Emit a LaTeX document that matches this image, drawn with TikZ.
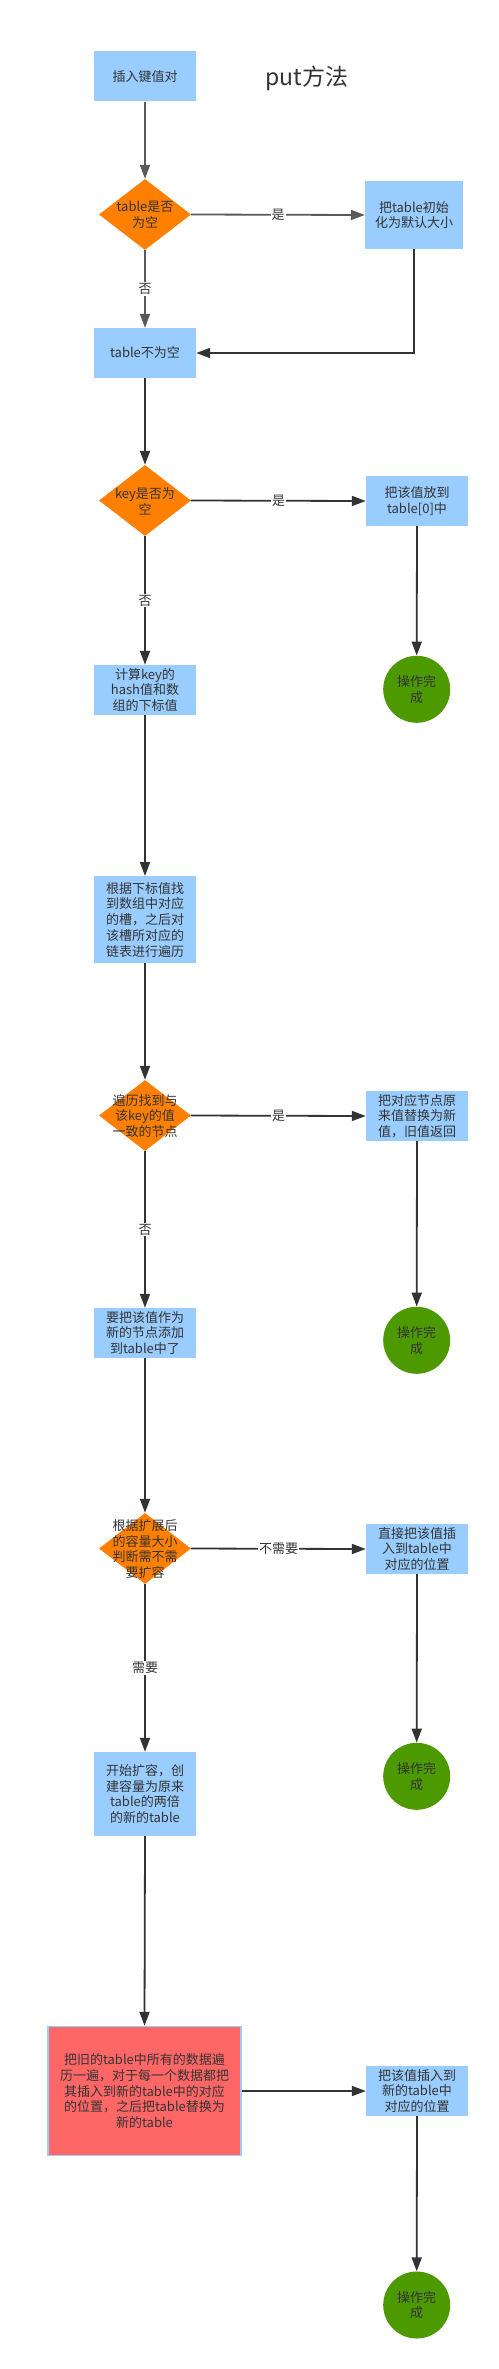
\documentclass[tikz,border=0pt]{standalone}
\usepackage{fontspec}
\newfontfamily\cjk{Noto Sans CJK SC}
\usetikzlibrary{shapes.geometric,arrows.meta}
\definecolor{boxblue}{HTML}{99CCFF}
\definecolor{decor}{HTML}{FF8000}
\definecolor{okgreen}{HTML}{4D9900}
\definecolor{redfill}{HTML}{FF6666}
\definecolor{txtgray}{HTML}{333333}
\definecolor{linegray}{HTML}{333333}
\definecolor{lightline}{HTML}{595959}
\tikzset{
  x=1pt,y=-1pt,
  base/.style={inner sep=0pt,text=txtgray,align=center,font=\cjk\fontsize{13}{15.75}\selectfont},
  stepbox/.style={base,rectangle,fill=boxblue,minimum width=102pt,minimum height=50pt},
  decision/.style={diamond,fill=decor,inner sep=0pt,minimum width=92pt,minimum height=71pt},
  dtext/.style={base},
  donecirc/.style={base,circle,fill=okgreen,minimum size=67pt},
  bigbox/.style={base,rectangle,fill=redfill,draw=boxblue,line width=1.5pt,minimum width=193pt,minimum height=129pt},
  conn/.style={draw=linegray,line width=1.8pt,-{Triangle[length=14pt,width=10pt]}},
  lightconn/.style={conn,draw=lightline},
  elabel/.style={base,fill=white,inner sep=1pt},
}
\begin{document}
\begin{tikzpicture}
\fill[white] (0,0) rectangle (498,2369);
\useasboundingbox (0,0) rectangle (498,2369);

\node[base,font=\cjk\fontsize{23}{26}\selectfont] (title) at (307,78) {put方法};

\node[stepbox] (n1) at (145,76.3) {插入键值对};

\node[decision] (d1) at (145,214.5) {};
\node[dtext] (d1t) at (145,215) {table是否\\为空};

\node[stepbox,minimum width=98pt,minimum height=68pt] (b2) at (414,215) {把table初始\\化为默认大小};

\node[stepbox] (b3) at (145,353) {table不为空};

\node[decision] (d2) at (145,500.5) {};
\node[dtext] (d2t) at (145,501) {key是否为\\空};

\node[stepbox] (b4) at (417,501) {把该值放到\\table[0]中};

\node[stepbox] (b5) at (145,690) {计算key的\\hash值和数\\组的下标值};

\node[donecirc] (c1) at (416.7,689.3) {操作完\\成};

\node[stepbox,minimum height=87pt] (b6) at (145,919.7) {根据下标值找\\到数组中对应\\的槽，之后对\\该槽所对应的\\链表进行遍历};

\node[decision] (d3) at (145,1115.5) {};
\node[dtext] (d3t) at (145,1116) {遍历找到与\\该key的值\\一致的节点};

\node[stepbox] (b7) at (417,1116) {把对应节点原\\来值替换为新\\值，旧值返回};

\node[stepbox] (b8) at (145,1333) {要把该值作为\\新的节点添加\\到table中了};

\node[donecirc] (c2) at (416.7,1340.3) {操作完\\成};

\node[decision] (d4) at (145,1548.5) {};
\node[dtext] (d4t) at (145,1549) {根据扩展后\\的容量大小\\判断需不需\\要扩容};

\node[stepbox] (b9) at (417,1549) {直接把该值插\\入到table中\\对应的位置};

\node[stepbox,minimum height=84pt] (b10) at (145,1794) {开始扩容，创\\建容量为原来\\table的两倍\\的新的table};

\node[donecirc] (c3) at (416.7,1776.3) {操作完\\成};

\node[bigbox] (r1) at (144.5,2091) {把旧的table中所有的数据遍\\历一遍，对于每一个数据都把\\其插入到新的table中的对应\\的位置，之后把table替换为\\新的table};

\node[stepbox] (b11) at (417,2091) {把该值插入到\\新的table中\\对应的位置};

\node[donecirc] (c4) at (416.7,2305) {操作完\\成};

% connectors
\draw[lightconn] (n1.south) -- (d1.north);
\draw[lightconn] (d1.east) -- node[elabel] (l1) {是} (b2.west);
\draw[lightconn] (d1.south) -- node[elabel] (l2) {否} (b3.north);
\draw[conn] (b2.south) |- (b3.east);
\draw[conn] (b3.south) -- (d2.north);
\draw[conn] (d2.east) -- node[elabel] (l3) {是} (b4.west);
\draw[conn] (d2.south) -- node[elabel] (l4) {否} (b5.north);
\draw[conn] (b4.south) -- (c1.north);
\draw[conn] (b5.south) -- (b6.north);
\draw[conn] (b6.south) -- (d3.north);
\draw[conn] (d3.east) -- node[elabel] (l5) {是} (b7.west);
\draw[conn] (d3.south) -- node[elabel] (l6) {否} (b8.north);
\draw[conn] (b7.south) -- (c2.north);
\draw[conn] (b8.south) -- (d4.north);
\draw[conn] (d4.east) -- node[elabel] (l7) {不需要} (b9.west);
\draw[conn] (d4.south) -- node[elabel] (l8) {需要} (b10.north);
\draw[conn] (b9.south) -- (c3.north);
\draw[conn] (b10.south) -- (r1.north);
\draw[conn] (r1.east) -- (b11.west);
\draw[conn] (b11.south) -- (c4.north);
\end{tikzpicture}
\end{document}
